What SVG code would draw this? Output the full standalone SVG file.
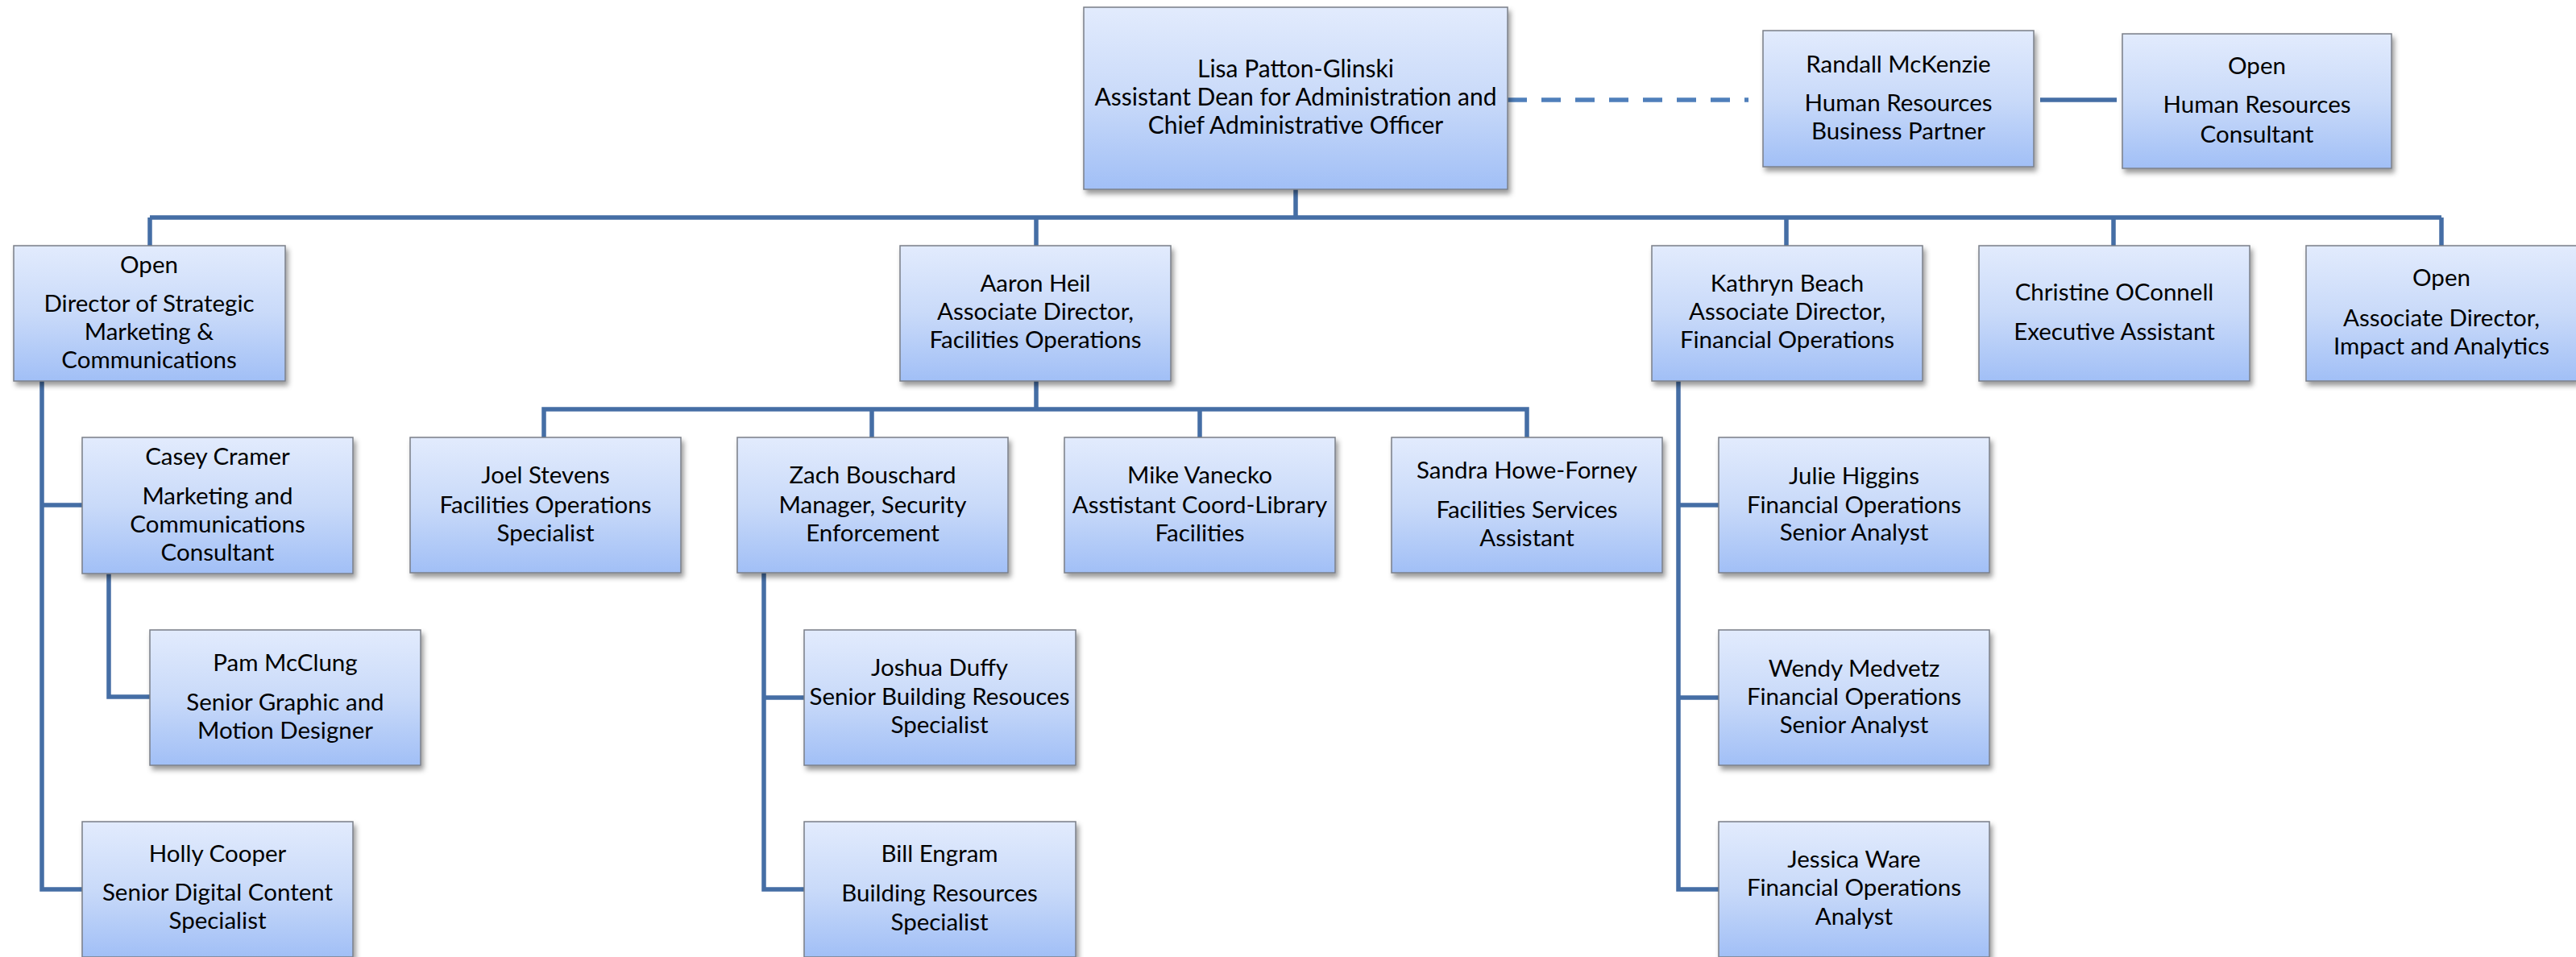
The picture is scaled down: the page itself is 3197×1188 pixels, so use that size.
<svg xmlns="http://www.w3.org/2000/svg" width="3197" height="1188" viewBox="0 0 3197 1188">
<defs>
<linearGradient id="bg" x1="0" y1="0" x2="0" y2="1">
<stop offset="0" stop-color="#e2ebfd"/>
<stop offset="0.5" stop-color="#c9daf9"/>
<stop offset="1" stop-color="#a1bff6"/>
</linearGradient>
<filter id="sh" x="-10%" y="-10%" width="125%" height="130%">
<feDropShadow dx="3" dy="5" stdDeviation="3" flood-color="#000" flood-opacity="0.4"/>
</filter>
<style>
.box{fill:url(#bg);stroke:#7a7f88;stroke-width:1.5;filter:url(#sh)}
.t{font-family:Lato,"Liberation Sans",sans-serif;font-size:29.5px;fill:#000;text-anchor:middle}
.big{font-size:30px}
.ln{stroke:#456ea5;stroke-width:5.5;fill:none;stroke-linejoin:miter}
.dash{stroke:#4f7fbb;stroke-width:5.5;fill:none;stroke-dasharray:24 18}
</style>
</defs>
<rect width="3197" height="1188" fill="#fff"/>
<g id="connectors">
<path class="ln" d="M1608 235V270M186 270H3030M186 270V305M1286 270V305M2217 270V305M2623 270V305M3030 270V305"/>
<path class="dash" d="M1871 124H2170"/>
<path class="ln" d="M2532 124H2627"/>
<path class="ln" d="M52 473V1104H102M52 627H102M135 712V865H186"/>
<path class="ln" d="M1286 473V508M675 543V508H1895V543M1082 508V543M1489 508V543"/>
<path class="ln" d="M948 711V1104H998M948 866H998"/>
<path class="ln" d="M2083 473V1104H2133M2083 627H2133M2083 866H2133"/>
</g>
<g id="lisa"><rect class="box" x="1345" y="9" width="526" height="226"/>
<text class="t big" x="1608" y="96">Lisa Patton-Glinski</text>
<text class="t big" x="1608" y="131">Assistant Dean for Administration and</text>
<text class="t big" x="1608" y="166">Chief Administrative Officer</text></g>
<g id="randall"><rect class="box" x="2188" y="38" width="336" height="169"/>
<text class="t" x="2356" y="90">Randall McKenzie</text>
<text class="t" x="2356" y="138">Human Resources</text>
<text class="t" x="2356" y="173">Business Partner</text></g>
<g id="open-hr"><rect class="box" x="2634" y="42" width="334" height="167"/>
<text class="t" x="2801" y="92">Open</text>
<text class="t" x="2801" y="140">Human Resources</text>
<text class="t" x="2801" y="177">Consultant</text></g>
<g id="open-director"><rect class="box" x="17" y="305" width="337" height="168"/>
<text class="t" x="185" y="339">Open</text>
<text class="t" x="185" y="387">Director of Strategic</text>
<text class="t" x="185" y="422">Marketing &amp;</text>
<text class="t" x="185" y="457">Communications</text></g>
<g id="aaron"><rect class="box" x="1117" y="305" width="336" height="168"/>
<text class="t" x="1285" y="362">Aaron Heil</text>
<text class="t" x="1285" y="397">Associate Director,</text>
<text class="t" x="1285" y="432">Facilities Operations</text></g>
<g id="kathryn"><rect class="box" x="2050" y="305" width="336" height="168"/>
<text class="t" x="2218" y="362">Kathryn Beach</text>
<text class="t" x="2218" y="397">Associate Director,</text>
<text class="t" x="2218" y="432">Financial Operations</text></g>
<g id="christine"><rect class="box" x="2456" y="305" width="336" height="168"/>
<text class="t" x="2624" y="373">Christine OConnell</text>
<text class="t" x="2624" y="422">Executive Assistant</text></g>
<g id="open-assoc"><rect class="box" x="2862" y="305" width="336" height="168"/>
<text class="t" x="3030" y="355">Open</text>
<text class="t" x="3030" y="405">Associate Director,</text>
<text class="t" x="3030" y="440">Impact and Analytics</text></g>
<g id="casey"><rect class="box" x="102" y="543" width="336" height="169"/>
<text class="t" x="270" y="577">Casey Cramer</text>
<text class="t" x="270" y="626">Marketing and</text>
<text class="t" x="270" y="661">Communications</text>
<text class="t" x="270" y="696">Consultant</text></g>
<g id="pam"><rect class="box" x="186" y="782" width="336" height="168"/>
<text class="t" x="354" y="833">Pam McClung</text>
<text class="t" x="354" y="882">Senior Graphic and</text>
<text class="t" x="354" y="917">Motion Designer</text></g>
<g id="holly"><rect class="box" x="102" y="1020" width="336" height="168"/>
<text class="t" x="270" y="1070">Holly Cooper</text>
<text class="t" x="270" y="1118">Senior Digital Content</text>
<text class="t" x="270" y="1153">Specialist</text></g>
<g id="joel"><rect class="box" x="509" y="543" width="336" height="168"/>
<text class="t" x="677" y="600">Joel Stevens</text>
<text class="t" x="677" y="637">Facilities Operations</text>
<text class="t" x="677" y="672">Specialist</text></g>
<g id="zach"><rect class="box" x="915" y="543" width="336" height="168"/>
<text class="t" x="1083" y="600">Zach Bouschard</text>
<text class="t" x="1083" y="637">Manager, Security</text>
<text class="t" x="1083" y="672">Enforcement</text></g>
<g id="mike"><rect class="box" x="1321" y="543" width="336" height="168"/>
<text class="t" x="1489" y="600">Mike Vanecko</text>
<text class="t" x="1489" y="637">Asstistant Coord-Library</text>
<text class="t" x="1489" y="672">Facilities</text></g>
<g id="sandra"><rect class="box" x="1727" y="543" width="336" height="168"/>
<text class="t" x="1895" y="594">Sandra Howe-Forney</text>
<text class="t" x="1895" y="643">Facilities Services</text>
<text class="t" x="1895" y="678">Assistant</text></g>
<g id="joshua"><rect class="box" x="998" y="782" width="337" height="168"/>
<text class="t" x="1166" y="839">Joshua Duffy</text>
<text class="t" x="1166" y="875">Senior Building Resouces</text>
<text class="t" x="1166" y="910">Specialist</text></g>
<g id="bill"><rect class="box" x="998" y="1020" width="337" height="168"/>
<text class="t" x="1166" y="1070">Bill Engram</text>
<text class="t" x="1166" y="1119">Building Resources</text>
<text class="t" x="1166" y="1155">Specialist</text></g>
<g id="julie"><rect class="box" x="2133" y="543" width="336" height="168"/>
<text class="t" x="2301" y="601">Julie Higgins</text>
<text class="t" x="2301" y="637">Financial Operations</text>
<text class="t" x="2301" y="671">Senior Analyst</text></g>
<g id="wendy"><rect class="box" x="2133" y="782" width="336" height="168"/>
<text class="t" x="2301" y="840">Wendy Medvetz</text>
<text class="t" x="2301" y="875">Financial Operations</text>
<text class="t" x="2301" y="910">Senior Analyst</text></g>
<g id="jessica"><rect class="box" x="2133" y="1020" width="336" height="168"/>
<text class="t" x="2301" y="1077">Jessica Ware</text>
<text class="t" x="2301" y="1112">Financial Operations</text>
<text class="t" x="2301" y="1148">Analyst</text></g>
</svg>
